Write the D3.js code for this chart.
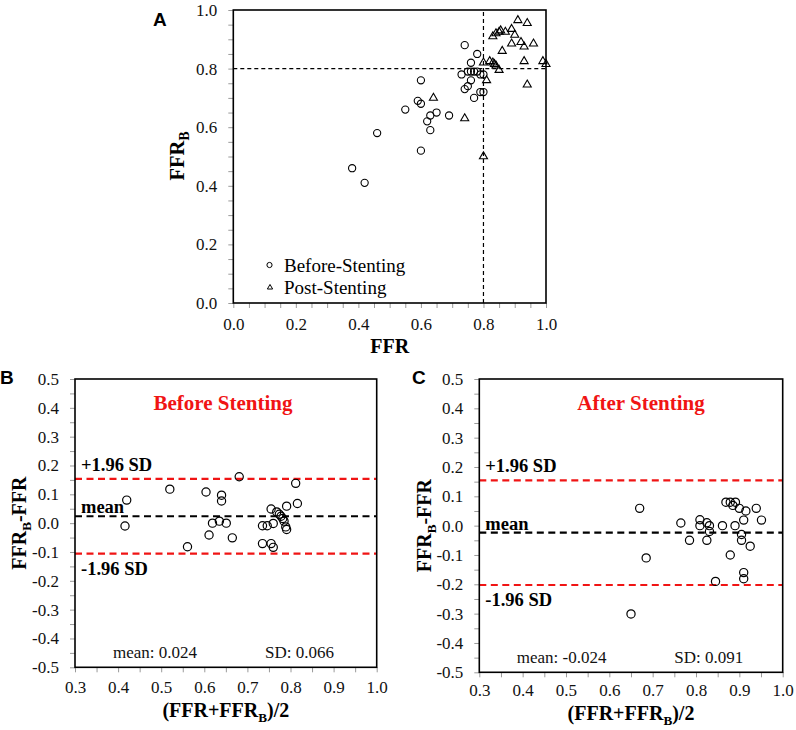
<!DOCTYPE html>
<html lang="en">
<head>
<meta charset="UTF-8" />
<title>FFR vs FFR-B agreement</title>
<script src="https://cdn.jsdelivr.net/npm/d3@7"></script>
<style>
  body { margin: 0; background: #fff; }
  svg { display: block; }
</style>
</head>
<body>
<script>
  // ---- data ----
  // panel A : FFR (x) vs FFR_B (y)
  const beforeFFR  = [0.38, 0.42, 0.46, 0.55, 0.60, 0.59, 0.60, 0.65, 0.63, 0.62, 0.63, 0.69, 0.60,
                      0.74, 0.78, 0.76, 0.73, 0.75, 0.76, 0.77, 0.78, 0.79, 0.80, 0.76, 0.75, 0.74,
                      0.77, 0.79, 0.80];
  const beforeFFRB = [0.46, 0.41, 0.58, 0.66, 0.76, 0.69, 0.68, 0.65, 0.64, 0.62, 0.59, 0.64, 0.52,
                      0.88, 0.85, 0.82, 0.78, 0.79, 0.79, 0.79, 0.79, 0.78, 0.78, 0.76, 0.74, 0.73,
                      0.70, 0.72, 0.72];
  const postFFR    = [0.91, 0.94, 0.83, 0.84, 0.85, 0.855, 0.87, 0.89, 0.90, 0.89, 0.92, 0.93, 0.96,
                      0.86, 0.93, 0.99, 1.00, 0.80, 0.82, 0.83, 0.835, 0.84, 0.85, 0.81, 0.94, 0.64,
                      0.74, 0.80];
  const postFFRB   = [0.965, 0.955, 0.91, 0.92, 0.925, 0.93, 0.925, 0.935, 0.915, 0.885, 0.89, 0.875, 0.885,
                      0.86, 0.825, 0.825, 0.815, 0.82, 0.825, 0.82, 0.815, 0.81, 0.795, 0.76, 0.745, 0.70,
                      0.63, 0.50];
  const cutoff = 0.8;

  // panel B : Bland-Altman before stenting
  const bAvg  = [0.416, 0.42, 0.52, 0.561, 0.604, 0.611, 0.619, 0.635, 0.640, 0.640, 0.651, 0.665, 0.681,
                 0.735, 0.746, 0.735, 0.755, 0.755, 0.760, 0.760, 0.768, 0.774, 0.778, 0.782, 0.785,
                 0.789, 0.791, 0.791, 0.812, 0.816];
  const bDiff = [-0.01, 0.08, 0.118, -0.082, 0.108, -0.041, 0.0, 0.007, 0.097, 0.077, 0.0, -0.051, 0.161,
                 -0.009, -0.009, -0.071, 0.049, -0.071, -0.084, -0.001, 0.039, 0.031, 0.024, 0.016, 0.007,
                 -0.013, -0.022, 0.059, 0.138, 0.068];

  // panel C : Bland-Altman after stenting
  const cAvg  = [0.670, 0.685, 0.650, 0.765, 0.785, 0.809, 0.809, 0.825, 0.825, 0.831, 0.831, 0.845,
                 0.861, 0.869, 0.879, 0.885, 0.891, 0.879, 0.890, 0.900, 0.905, 0.905, 0.910, 0.915,
                 0.910, 0.910, 0.925, 0.939, 0.951];
  const cDiff = [0.059, -0.110, -0.301, 0.009, -0.050, 0.020, 0.0, 0.010, -0.050, 0.0, -0.020, -0.190,
                 0.0, 0.080, 0.080, 0.069, 0.080, -0.100, 0.0, 0.059, -0.030, -0.050, 0.019, 0.050,
                 -0.160, -0.181, -0.070, 0.059, 0.019];

  const baTitles = ['Before Stenting', 'After Stenting'];
  const baMean   = [0.024, -0.024];
  const baSD     = [0.066, 0.091];

  // tick labels
  const aTicks  = [0.0, 0.2, 0.4, 0.6, 0.8, 1.0];
  const baXTicks = [0.3, 0.4, 0.5, 0.6, 0.7, 0.8, 0.9, 1.0];
  const baYTicks = [-0.5, -0.4, -0.3, -0.2, -0.1, 0.0, 0.1, 0.2, 0.3, 0.4, 0.5];

  // ---- drawing ----
  const serif = '"Liberation Serif", "Times New Roman", serif';
  const sans = '"Liberation Sans", Arial, sans-serif';
  const RED = '#f01414';

  const svg = d3.select('body').append('svg')
      .attr('width', 796)
      .attr('height', 730);

  // minor ticks every 0.05 between the first and last label
  const minorOf = ticks => d3.range(Math.round((ticks[ticks.length - 1] - ticks[0]) / 0.05) + 1)
      .map(i => +(ticks[0] + i * 0.05).toFixed(2));
  const isLabel = ticks => v => ticks.some(t => Math.abs(t - v) < 1e-6);

  function axes(g, x, y, xt, yt, xPad) {
    const [x0] = x.range();
    const [y0] = y.range();
    const lblX = isLabel(xt), lblY = isLabel(yt);

    g.append('g')
        .attr('transform', `translate(0,${y0})`)
        .call(d3.axisBottom(x).tickValues(minorOf(xt)).tickSize(5).tickPadding(xPad)
            .tickFormat(v => lblX(v) ? v.toFixed(1) : ''))
        .call(styleAxis);

    g.append('g')
        .attr('transform', `translate(${x0},0)`)
        .call(d3.axisLeft(y).tickValues(minorOf(yt)).tickSize(5).tickPadding(11)
            .tickFormat(v => lblY(v) ? v.toFixed(1) : ''))
        .call(styleAxis);

    g.append('rect')
        .attr('x', x.range()[0]).attr('y', y.range()[1])
        .attr('width', x.range()[1] - x.range()[0])
        .attr('height', y.range()[0] - y.range()[1])
        .attr('fill', 'none').attr('stroke', '#000').attr('stroke-width', 1.6);
  }

  function styleAxis(a) {
    a.select('.domain').remove();
    a.attr('font-family', serif).attr('font-size', 17);
    a.selectAll('line').attr('stroke', '#9a9a9a');
    a.selectAll('text').attr('fill', '#111');
  }

  // text with a subscript B, pieces = [[text, isSub], ...]
  function subText(sel, pieces) {
    pieces.forEach(([t, sub], i) => {
      const prevSub = i > 0 && pieces[i - 1][1];
      sel.append('tspan')
          .attr('font-size', sub ? '0.66em' : null)
          .attr('dy', sub ? 5 : (prevSub ? -5 : null))
          .text(t);
    });
    return sel;
  }

  // ---------- panel A ----------
  const xA = d3.scaleLinear().domain([0, 1]).range([233.3, 546]);
  const yA = d3.scaleLinear().domain([0, 1]).range([303, 10]);
  const gA = svg.append('g');

  gA.append('line')
      .attr('x1', xA(0)).attr('x2', xA(1)).attr('y1', yA(cutoff)).attr('y2', yA(cutoff))
      .attr('stroke', '#000').attr('stroke-width', 1.2).attr('stroke-dasharray', '4,3');
  gA.append('line')
      .attr('x1', xA(cutoff)).attr('x2', xA(cutoff)).attr('y1', yA(0)).attr('y2', yA(1))
      .attr('stroke', '#000').attr('stroke-width', 1.2).attr('stroke-dasharray', '4,3');

  axes(gA, xA, yA, aTicks, aTicks, 10);

  const tri = d3.symbol().type(d3.symbolTriangle).size(28);
  gA.append('g').selectAll('path')
      .data(postFFR.map((v, i) => [v, postFFRB[i]]))
      .join('path')
      .attr('d', tri)
      .attr('transform', d => `translate(${xA(d[0])},${yA(d[1])})`)
      .attr('fill', 'none').attr('stroke', '#000').attr('stroke-width', 1.1);

  gA.append('g').selectAll('circle')
      .data(beforeFFR.map((v, i) => [v, beforeFFRB[i]]))
      .join('circle')
      .attr('cx', d => xA(d[0])).attr('cy', d => yA(d[1])).attr('r', 3.6)
      .attr('fill', 'none').attr('stroke', '#000').attr('stroke-width', 1.1);

  // legend
  const leg = gA.append('g').attr('font-family', serif).attr('font-size', 19);
  leg.append('circle').attr('cx', 269.5).attr('cy', 265).attr('r', 2.6)
      .attr('fill', 'none').attr('stroke', '#000').attr('stroke-width', 1);
  leg.append('text').attr('x', 284).attr('y', 271.5).text('Before-Stenting');
  leg.append('path').attr('d', d3.symbol().type(d3.symbolTriangle).size(12))
      .attr('transform', 'translate(270,287.5)')
      .attr('fill', 'none').attr('stroke', '#000').attr('stroke-width', 1);
  leg.append('text').attr('x', 284).attr('y', 293.5).text('Post-Stenting');

  gA.append('text')
      .attr('x', (xA(0) + xA(1)) / 2).attr('y', 353)
      .attr('text-anchor', 'middle').attr('font-family', serif)
      .attr('font-weight', 'bold').attr('font-size', 20).text('FFR');
  subText(gA.append('text')
      .attr('transform', 'translate(184,156) rotate(-90)')
      .attr('text-anchor', 'middle').attr('font-family', serif)
      .attr('font-weight', 'bold').attr('font-size', 20.5), [['FFR', false], ['B', true]]);
  gA.append('text').attr('x', 153).attr('y', 26)
      .attr('font-family', sans).attr('font-weight', 'bold').attr('font-size', 19).text('A');

  // ---------- panels B and C ----------
  const baPanels = [
    { letter: 'B', lx: 0, box: [75, 376.7, 379, 667.3], ytx: 26, avg: bAvg, diff: bDiff,
      xPad: 9, xtY: 717, title: 223, statY: 658, meanDx: 38, sdDx: 190 },
    { letter: 'C', lx: 412, box: [479.3, 782.7, 379, 672.3], ytx: 431, avg: cAvg, diff: cDiff,
      xPad: 7, xtY: 720, title: 641, statY: 663, meanDx: 37.5, sdDx: 195 }
  ];

  baPanels.forEach((p, k) => {
    const [l, r, t, b] = p.box;
    const x = d3.scaleLinear().domain([0.3, 1.0]).range([l, r]);
    const y = d3.scaleLinear().domain([-0.5, 0.5]).range([b, t]);
    const g = svg.append('g');
    const mean = baMean[k], sd = baSD[k];
    const upper = mean + 1.96 * sd, lower = mean - 1.96 * sd;

    [[upper, RED], [mean, '#000'], [lower, RED]].forEach(([v, c]) => {
      g.append('line')
          .attr('x1', x(0.3)).attr('x2', x(1.0)).attr('y1', y(v)).attr('y2', y(v))
          .attr('stroke', c).attr('stroke-width', 2.2).attr('stroke-dasharray', '7,4.5');
    });

    axes(g, x, y, baXTicks, baYTicks, p.xPad);

    g.append('g').selectAll('circle')
        .data(p.avg.map((v, i) => [v, p.diff[i]]))
        .join('circle')
        .attr('cx', d => x(d[0])).attr('cy', d => y(d[1])).attr('r', 4.1)
        .attr('fill', 'none').attr('stroke', '#000').attr('stroke-width', 1.2);

    const bold = g.append('g').attr('font-family', serif).attr('font-weight', 'bold').attr('font-size', 18.5);
    bold.append('text').attr('x', l + 6).attr('y', y(upper) - 8).text('+1.96 SD');
    bold.append('text').attr('x', l + 6).attr('y', y(mean) - 3).text('mean');
    bold.append('text').attr('x', l + 6).attr('y', y(lower) + 21).text('-1.96 SD');

    g.append('text')
        .attr('x', p.title).attr('y', t + 31)
        .attr('text-anchor', 'middle').attr('fill', RED)
        .attr('font-family', serif).attr('font-weight', 'bold').attr('font-size', 21)
        .text(baTitles[k]);

    const stat = g.append('g').attr('font-family', serif).attr('font-size', 17).attr('fill', '#111');
    stat.append('text').attr('x', l + p.meanDx).attr('y', p.statY).text('mean: ' + mean.toFixed(3));
    stat.append('text').attr('x', l + p.sdDx).attr('y', p.statY).text('SD: ' + sd.toFixed(3));

    subText(g.append('text')
        .attr('x', (l + r) / 2).attr('y', p.xtY)
        .attr('text-anchor', 'middle').attr('font-family', serif)
        .attr('font-weight', 'bold').attr('font-size', 20),
        [['(FFR+FFR', false], ['B', true], [')/2', false]]);

    subText(g.append('text')
        .attr('transform', `translate(${p.ytx},${(t + b) / 2}) rotate(-90)`)
        .attr('text-anchor', 'middle').attr('font-family', serif)
        .attr('font-weight', 'bold').attr('font-size', 20),
        [['FFR', false], ['B', true], ['-FFR', false]]);

    g.append('text').attr('x', p.lx).attr('y', 383.5)
        .attr('font-family', sans).attr('font-weight', 'bold').attr('font-size', 19)
        .text(p.letter);
  });
</script>
</body>
</html>
